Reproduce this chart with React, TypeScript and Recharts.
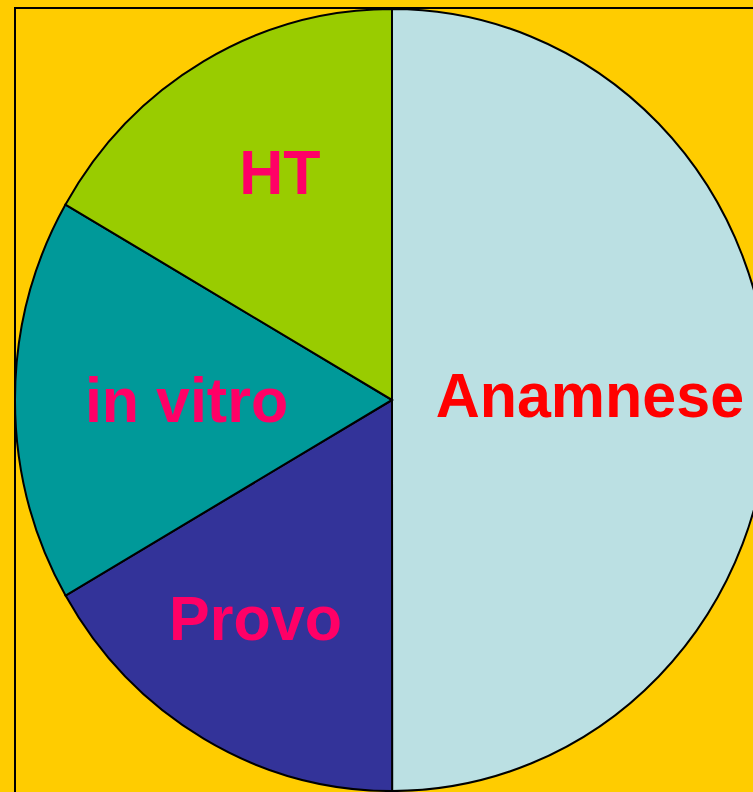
import { PieChart, Pie, Cell } from "recharts"

const labels = ["Anamnese", "Provo", "in vitro", "HT"]
const shares = [50, 16.67, 16.67, 16.67]
const fills = ["#BBE0E3", "#333399", "#009999", "#99CC00"]
const textColors = ["#FF0000", "#FF0066", "#FF0066", "#FF0066"]

// label placement: share of the radius and a small turn off the slice middle
const labelRadius: Record<string, number> = {
  Anamnese: 0.525,
  Provo: 0.665,
  "in vitro": 0.545,
  HT: 0.655,
}
const labelTurn: Record<string, number> = {
  Anamnese: 1.3,
  Provo: -3,
  "in vitro": 0,
  HT: -3,
}

const data = labels.map((name, i) => ({ name, value: shares[i] }))

const CX = 392
const CY = 400
const R = 377
const STRETCH = 391 / 377
const FONT = 61

const RADIAN = Math.PI / 180

function renderLabel(props: any) {
  const { cx, cy, midAngle, outerRadius, index, name } = props
  const r = outerRadius * (labelRadius[name] ?? 0.6)
  const a = (midAngle + (labelTurn[name] ?? 0)) * RADIAN
  const x = cx + r * Math.cos(-a)
  const y = cy + r * Math.sin(-a)
  return (
    <text
      x={x}
      y={y + FONT * 0.345}
      textAnchor="middle"
      fill={textColors[index]}
      fontFamily="'Liberation Sans', Arial, sans-serif"
      fontWeight="bold"
      fontSize={FONT}
    >
      {name}
    </text>
  )
}

export default function App() {
  return (
    <div
      style={{
        position: "absolute",
        left: 0,
        top: 0,
        width: 753,
        height: 792,
        background: "#FFCC00",
        overflow: "hidden",
      }}
    >
      <div
        style={{
          position: "absolute",
          left: 14,
          top: 7,
          width: 800,
          height: 820,
          border: "2px solid #000",
        }}
      />
      <div
        style={{
          position: "absolute",
          left: 0,
          top: 0,
          transform: `scale(1, ${STRETCH})`,
          transformOrigin: `0px ${CY}px`,
        }}
      >
        <PieChart width={800} height={800} margin={{ top: 0, right: 0, bottom: 0, left: 0 }}>
          <Pie
            data={data}
            dataKey="value"
            nameKey="name"
            cx={CX}
            cy={CY}
            outerRadius={R}
            startAngle={90}
            endAngle={-270}
            stroke="#000"
            strokeWidth={2}
            label={renderLabel}
            labelLine={false}
            isAnimationActive={false}
          >
            {data.map((d, i) => (
              <Cell key={d.name} fill={fills[i]} />
            ))}
          </Pie>
        </PieChart>
      </div>
    </div>
  )
}
